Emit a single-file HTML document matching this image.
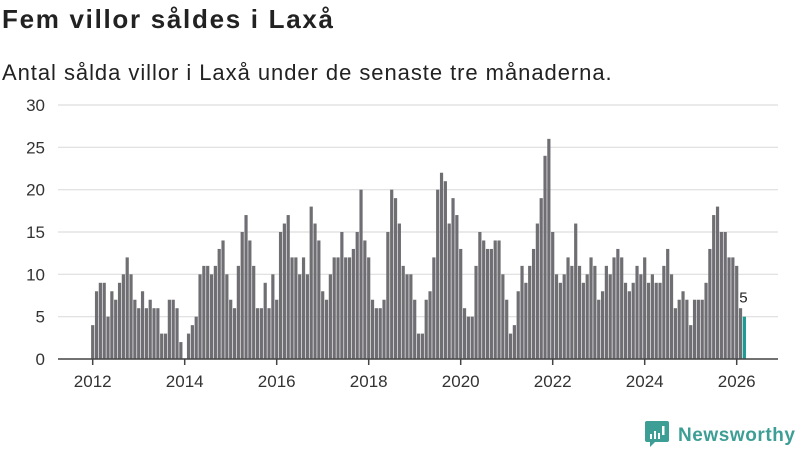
<!DOCTYPE html>
<html><head><meta charset="utf-8">
<style>
body{margin:0;background:#fff;font-family:"Liberation Sans",sans-serif;}
#wrap{position:relative;width:800px;height:450px;overflow:hidden;}
h1{position:absolute;left:2px;top:4px;margin:0;font-size:26px;font-weight:bold;color:#222;letter-spacing:1.7px;}
p.sub{position:absolute;left:2px;top:60px;margin:0;font-size:22px;color:#222;letter-spacing:0.95px;}
</style></head><body>
<div id="wrap">
<h1>Fem villor såldes i Laxå</h1>
<p class="sub">Antal sålda villor i Laxå under de senaste tre månaderna.</p>
<svg id="chart" width="800" height="450" style="position:absolute;left:0;top:0"></svg>
</div>
<script>
const startYear = 2012;
const values = [
4,8,9,9,5,8,7,9,10,12,10,7,
6,8,6,7,6,6,3,3,7,7,6,2,
0,3,4,5,10,11,11,10,11,13,14,10,
7,6,11,15,17,14,11,6,6,9,6,10,
7,15,16,17,12,12,10,12,10,18,16,14,
8,7,10,12,12,15,12,12,13,15,20,14,
12,7,6,6,7,15,20,19,16,11,10,10,
7,3,3,7,8,12,20,22,21,16,19,17,
13,6,5,5,11,15,14,13,13,14,14,10,
7,3,4,8,11,9,11,13,16,19,24,26,
15,10,9,10,12,11,16,11,9,10,12,11,
7,8,11,10,12,13,12,9,8,9,11,10,
12,9,10,9,9,11,13,10,6,7,8,7,
4,7,7,7,9,13,17,18,15,15,12,12,
11,6,5];
const yTicks = [0,5,10,15,20,25,30];
const xTickYears = [2012,2014,2016,2018,2020,2022,2024,2026];

const NS="http://www.w3.org/2000/svg";
const svg=document.getElementById('chart');
const y0=359, yScale=254/30;
const x0=92.7, monthW=46/12;
function xPos(i){return x0+monthW*i;}
function yPos(v){return y0-v*yScale;}
function mk(t,a){const e=document.createElementNS(NS,t);for(const k in a)e.setAttribute(k,a[k]);svg.appendChild(e);return e;}

yTicks.forEach(t=>{
  if(t>0){const g=mk('line',{x1:58,x2:778,y1:yPos(t),y2:yPos(t),stroke:'#dedede','stroke-width':1.2});
  
  }
  const l=mk('text',{x:45,y:yPos(t)+6,'text-anchor':'end','font-size':17,fill:'#333','font-family':'Liberation Sans, sans-serif'});
  l.textContent=t;
  
  
});

values.forEach((v,i)=>{
  if(v<=0)return;
  const last=i===values.length-1;
  const b=mk('rect',{x:xPos(i)-1.6,y:yPos(v),width:3.2,height:v*yScale,fill:last?'#1c9a93':'#6f6e73'});
  
  
});
const li=values.length-1;
const vl=mk('text',{x:xPos(li)-1,y:yPos(values[li])-14,'text-anchor':'middle','font-size':15,fill:'#222','font-family':'Liberation Sans, sans-serif'});
vl.textContent=values[li];



const ax=mk('line',{x1:58,x2:778,y1:y0,y2:y0,stroke:'#444','stroke-width':1.5});


xTickYears.forEach(yr=>{
  const x=xPos((yr-startYear)*12);
  const tk=mk('line',{x1:x,x2:x,y1:y0,y2:y0+6,stroke:'#444','stroke-width':1.5});
  
  
  const t=mk('text',{x:x,y:387,'text-anchor':'middle','font-size':17,fill:'#333','font-family':'Liberation Sans, sans-serif'});
  t.textContent=yr;
  
  
});

// logo
const lg=mk('g',{});


const ic=document.createElementNS(NS,'path');
ic.setAttribute('d','M647 421 h20 a2 2 0 0 1 2 2 v17 a2 2 0 0 1 -2 2 h-12 l-5 5 v-5 h-3 a2 2 0 0 1 -2 -2 v-17 a2 2 0 0 1 2 -2z');
ic.setAttribute('fill','#3d9e96');lg.appendChild(ic);
[[650,434,2,5],[654,431,2,8],[658,433,2,6],[662,426,2.5,9]].forEach(r=>{const e=document.createElementNS(NS,'rect');e.setAttribute('x',r[0]);e.setAttribute('y',r[1]);e.setAttribute('width',r[2]);e.setAttribute('height',r[3]);e.setAttribute('fill','#fff');lg.appendChild(e);});
const lt=document.createElementNS(NS,'text');
lt.setAttribute('x',678);lt.setAttribute('y',441);lt.setAttribute('font-size',19);lt.setAttribute('font-weight','bold');lt.setAttribute('fill','#3d9e96');lt.setAttribute('font-family','Liberation Sans, sans-serif');
lt.setAttribute('textLength',117);
lt.textContent='Newsworthy';lg.appendChild(lt);
</script>
</body></html>
